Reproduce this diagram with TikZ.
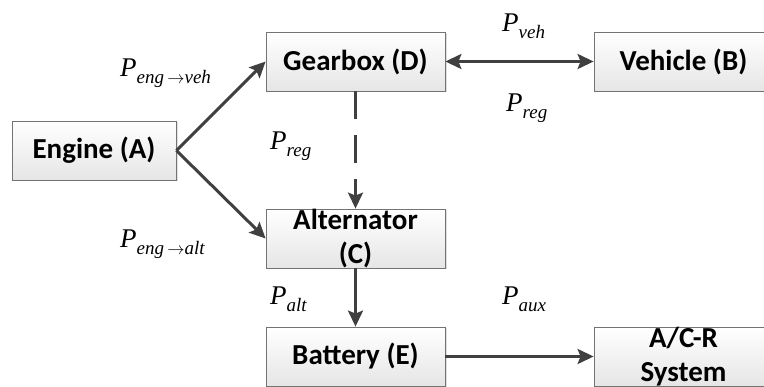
\documentclass[tikz,border=0pt]{standalone}
\usepackage{fontspec}
\setmainfont{Liberation Serif}
\newfontfamily\blockfont{Carlito}
\usetikzlibrary{arrows.meta, shadows}

% power label: P with a lowered subscript
\newcommand{\pw}[1]{\textit{P}\raisebox{-7pt}{\fontsize{19}{19}\selectfont\textit{#1}}}
\newcommand{\tto}{\,$\rightarrow$}

\tikzset{
  block/.style={draw=black!55, line width=0.8pt, top color=white, bottom color=black!10,
    minimum width=179pt, minimum height=59pt, inner sep=0pt,
    font=\blockfont\bfseries\fontsize{29}{34}\selectfont,
    drop shadow={opacity=0.25, shadow xshift=1.5pt, shadow yshift=-1.5pt}},
  blocktext/.style={inner sep=0pt, align=center, font=\blockfont\bfseries\fontsize{29}{34}\selectfont},
  flow/.style={line width=3pt, draw=black!75, -{Stealth[length=16pt, width=15pt, inset=3pt]}},
  power/.style={inner sep=0pt, anchor=base west, font=\fontsize{27}{27}\selectfont},
}

\begin{document}
\begin{tikzpicture}[x=1pt, y=-1pt]
\useasboundingbox (0,0) rectangle (764,387);

% --- Blocks ---
\node[block, minimum width=164pt] (engine) at (94, 150.5) {Engine (A)};
\node[block] (gearbox) at (355.5, 61.5) {Gearbox (D)};
\node[block] (vehicle) at (683.5, 61.5) {Vehicle (B)};
\node[block] (alternator) at (355.5, 238.5) {};
\node[blocktext] (altlbl) at (alternator) {Alternator\\(C)};
\node[block] (battery) at (355.5, 356.5) {Battery (E)};
\node[block] (acr) at (683.5, 356.5) {};
\node[blocktext] (acrlbl) at (acr) {A/C-R\\System};

% --- Power flows ---
\draw[flow] (engine.east) -- (gearbox.west);
\draw[flow] (engine.east) -- (alternator.west);
\draw[flow, {Stealth[length=16pt, width=15pt, inset=3pt]}-{Stealth[length=16pt, width=15pt, inset=3pt]}] (gearbox.east) -- (vehicle.west);
\draw[flow, dash pattern=on 28pt off 16pt] (gearbox.south) -- (alternator.north);
\draw[flow] (alternator.south) -- (battery.north);
\draw[flow] (battery.east) -- (acr.west);

% --- Labels ---
\node[power] (pengveh) at (120, 77) {\pw{eng\tto veh}};
\node[power] (pengalt) at (120, 248) {\pw{eng\tto alt}};
\node[power] (pregd) at (270, 150) {\pw{reg}};
\node[power] (pveh) at (502, 32) {\pw{veh}};
\node[power] (pregb) at (506, 112) {\pw{reg}};
\node[power] (palt) at (270, 305) {\pw{alt}};
\node[power] (paux) at (502, 305) {\pw{aux}};

\end{tikzpicture}
\end{document}
